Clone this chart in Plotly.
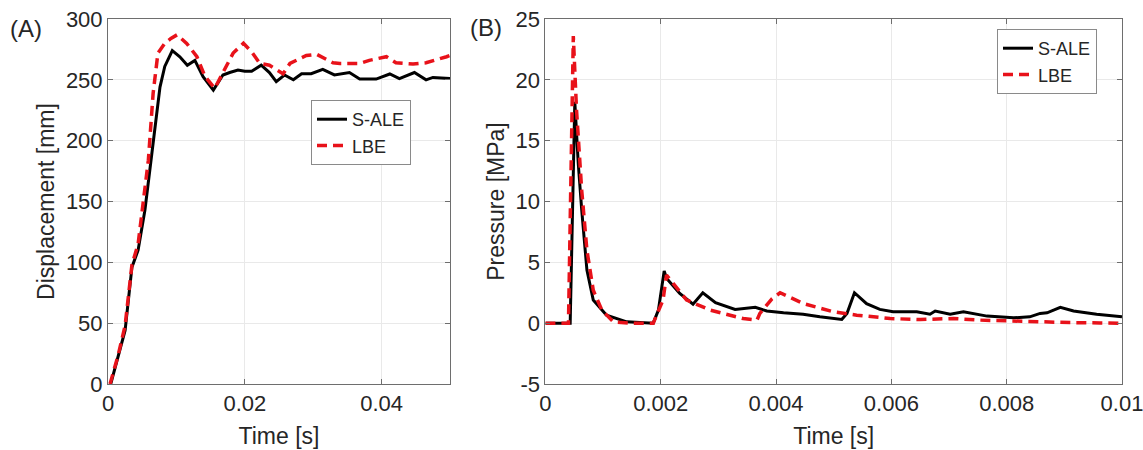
import plotly.graph_objects as go

# ---------------- Data ----------------
# Panel A: displacement [mm] vs time [s]
a_t_sale = [0.0004, 0.0015, 0.0025, 0.0035, 0.0044, 0.0054, 0.0060, 0.0066, 0.0072, 0.0076,
            0.0083, 0.0094, 0.0105, 0.0116, 0.0127, 0.0139, 0.0154, 0.0160, 0.0168, 0.0178,
            0.0190, 0.0200, 0.0210, 0.0224, 0.0236, 0.0246, 0.0258, 0.0271, 0.0283, 0.0297,
            0.0314, 0.0331, 0.0353, 0.0368, 0.0392, 0.0412, 0.0426, 0.0448, 0.0465, 0.0475, 0.0500]
a_sale = [0, 22, 44, 96, 110, 143, 170, 198, 228, 244,
          261, 274, 269, 262, 266, 252.6, 241.6, 247, 254, 256,
          258, 257, 257, 262, 256, 248.5, 254, 250, 255, 255,
          258.6, 254, 256, 250.6, 250.6, 254.8, 251, 256, 250, 252, 251]

a_t_lbe = [0.0003, 0.0015, 0.0025, 0.0035, 0.0044, 0.0052, 0.0059, 0.0066, 0.0073, 0.0083,
           0.0092, 0.0101, 0.0115, 0.0130, 0.0142, 0.0156, 0.0171, 0.0183, 0.0198, 0.0210,
           0.0222, 0.0236, 0.0256, 0.0266, 0.0290, 0.0305, 0.0329, 0.0339, 0.0368, 0.0382,
           0.0407, 0.0421, 0.0446, 0.0465, 0.0495, 0.0500]
a_lbe = [0, 24, 48, 98, 115, 150, 184, 239, 272, 280,
         284, 287, 280, 269, 252.6, 243, 259, 272, 280, 273,
         263.5, 262, 255, 263.5, 270, 271, 264, 263.5, 263.5, 266,
         269, 264, 263, 264, 269, 270]

# Panel B: pressure [MPa] vs time [s]
b_t_sale = [0, 0.00043, 0.00051, 0.00057, 0.00063, 0.00072, 0.00083, 0.00106, 0.00141, 0.00187,
            0.00196, 0.00206, 0.0021, 0.00233, 0.00256, 0.00273, 0.00295, 0.00329, 0.00364, 0.00384,
            0.00413, 0.00447, 0.00476, 0.00514, 0.00523, 0.00536, 0.00557, 0.0058, 0.00603, 0.00644,
            0.00667, 0.00676, 0.00702, 0.00725, 0.00766, 0.00812, 0.0084, 0.00858, 0.0087, 0.00893,
            0.00916, 0.00956, 0.01]
b_sale = [0, 0, 18.2, 13.1, 9.3, 4.36, 1.9, 0.66, 0.11, 0,
          1.07, 4.3, 3.7, 2.44, 1.56, 2.5, 1.68, 1.13, 1.3, 1.0,
          0.85, 0.74, 0.52, 0.3, 0.8, 2.5, 1.6, 1.13, 0.93, 0.93,
          0.74, 1.0, 0.74, 0.93, 0.58, 0.44, 0.52, 0.8, 0.85, 1.3,
          1.0, 0.74, 0.52]

b_t_lbe = [0, 0.0004, 0.000484, 0.00054, 0.00063, 0.00072, 0.00083, 0.00098, 0.00118, 0.0015,
           0.00187, 0.00204, 0.0021, 0.00245, 0.00286, 0.0032, 0.00343, 0.00367, 0.00372, 0.00393,
           0.00407, 0.00447, 0.005, 0.0054, 0.00598, 0.0065, 0.00708, 0.00754, 0.00812, 0.00858,
           0.0091, 0.00962, 0.01]
b_lbe = [0, 0, 23.6, 17.5, 10.9, 6.0, 2.7, 1.07, 0.1, 0,
         0, 1.9, 3.95, 1.9, 1.07, 0.66, 0.38, 0.25, 0.8, 2.0,
         2.5, 1.62, 0.93, 0.66, 0.38, 0.3, 0.38, 0.25, 0.16, 0.1,
         0.05, 0.02, 0]

a_xticks = [0, 0.02, 0.04]
a_xticktext = ["0", "0.02", "0.04"]
a_yticks = [0, 50, 100, 150, 200, 250, 300]
a_yticktext = ["0", "50", "100", "150", "200", "250", "300"]
b_xticks = [0, 0.002, 0.004, 0.006, 0.008, 0.01]
b_xticktext = ["0", "0.002", "0.004", "0.006", "0.008", "0.01"]
b_yticks = [-5, 0, 5, 10, 15, 20, 25]
b_yticktext = ["-5", "0", "5", "10", "15", "20", "25"]

series_names = ["S-ALE", "LBE"]

# ---------------- Figure ----------------
W, H = 1143, 450
TXT = "#262626"
FONT = "Liberation Sans, Arial, sans-serif"
BLACK_W = 3
RED_W = 3.5
RED_DASH = "10px,6px"

fig = go.Figure()
fig.add_trace(go.Scatter(x=a_t_sale, y=a_sale, mode="lines", name=series_names[0],
                         line=dict(color="black", width=BLACK_W), xaxis="x", yaxis="y",
                         legend="legend"))
fig.add_trace(go.Scatter(x=a_t_lbe, y=a_lbe, mode="lines", name=series_names[1],
                         line=dict(color="#e8121a", width=RED_W, dash=RED_DASH), xaxis="x", yaxis="y",
                         legend="legend"))
fig.add_trace(go.Scatter(x=b_t_sale, y=b_sale, mode="lines", name=series_names[0],
                         line=dict(color="black", width=BLACK_W), xaxis="x2", yaxis="y2",
                         legend="legend2"))
fig.add_trace(go.Scatter(x=b_t_lbe, y=b_lbe, mode="lines", name=series_names[1],
                         line=dict(color="#e8121a", width=RED_W, dash=RED_DASH), xaxis="x2", yaxis="y2",
                         legend="legend2"))

ydom = [1 - 384 / H, 1 - 19 / H]
axis_common = dict(showline=True, linecolor="#6e6e6e", linewidth=1, mirror="ticks",
                   ticks="inside", ticklen=5, tickcolor="#6e6e6e", automargin=False,
                   ticklabeloverflow="allow",
                   showgrid=True, gridcolor="#e9e9e9", gridwidth=1, zeroline=False,
                   tickfont=dict(family=FONT, size=22, color=TXT))
title_font = dict(family=FONT, size=23, color=TXT)

fig.update_layout(
    width=W, height=H,
    margin=dict(l=0, r=0, t=0, b=0, autoexpand=False),
    paper_bgcolor="white", plot_bgcolor="white",
    font=dict(family=FONT, color=TXT),
    xaxis=dict(domain=[108 / W, 450 / W], range=[0, 0.05000001], tickvals=a_xticks, ticktext=a_xticktext,
               title=dict(text="Time [s]", font=title_font, standoff=12), anchor="y", **axis_common),
    yaxis=dict(domain=ydom, range=[0, 300.0001], tickvals=a_yticks, ticktext=a_yticktext,
               title=dict(text="Displacement [mm]", font=title_font, standoff=4), anchor="x", **axis_common),
    xaxis2=dict(domain=[545.4 / W, 1122 / W], range=[0, 0.01000001], tickvals=b_xticks, ticktext=b_xticktext,
                title=dict(text="Time [s]", font=title_font, standoff=12), anchor="y2", **axis_common),
    yaxis2=dict(domain=ydom, range=[-5.00001, 25.00001], tickvals=b_yticks, ticktext=b_yticktext,
                title=dict(text="Pressure [MPa]", font=title_font, standoff=4), anchor="x2", **axis_common),
    legend=dict(x=311 / W, y=1 - 100 / H, xanchor="left", yanchor="top",
                bgcolor="white", bordercolor="#8a8a8a", borderwidth=1,
                font=dict(family=FONT, size=18, color=TXT), tracegroupgap=0, itemwidth=30),
    legend2=dict(x=997 / W, y=1 - 29 / H, xanchor="left", yanchor="top",
                 bgcolor="white", bordercolor="#8a8a8a", borderwidth=1,
                 font=dict(family=FONT, size=18, color=TXT), tracegroupgap=0, itemwidth=30),
    annotations=[
        dict(text="(A)", x=8 / W, y=1 - 29 / H, xref="paper", yref="paper", xanchor="left",
             yanchor="middle", showarrow=False, font=dict(family=FONT, size=24, color=TXT)),
        dict(text="(B)", x=468 / W, y=1 - 27 / H, xref="paper", yref="paper", xanchor="left",
             yanchor="middle", showarrow=False, font=dict(family=FONT, size=24, color=TXT)),
    ],
)

fig.write_html("out.html", config={"displayModeBar": False},
               post_script="document.body.style.margin='0';document.body.style.overflow='hidden';")
